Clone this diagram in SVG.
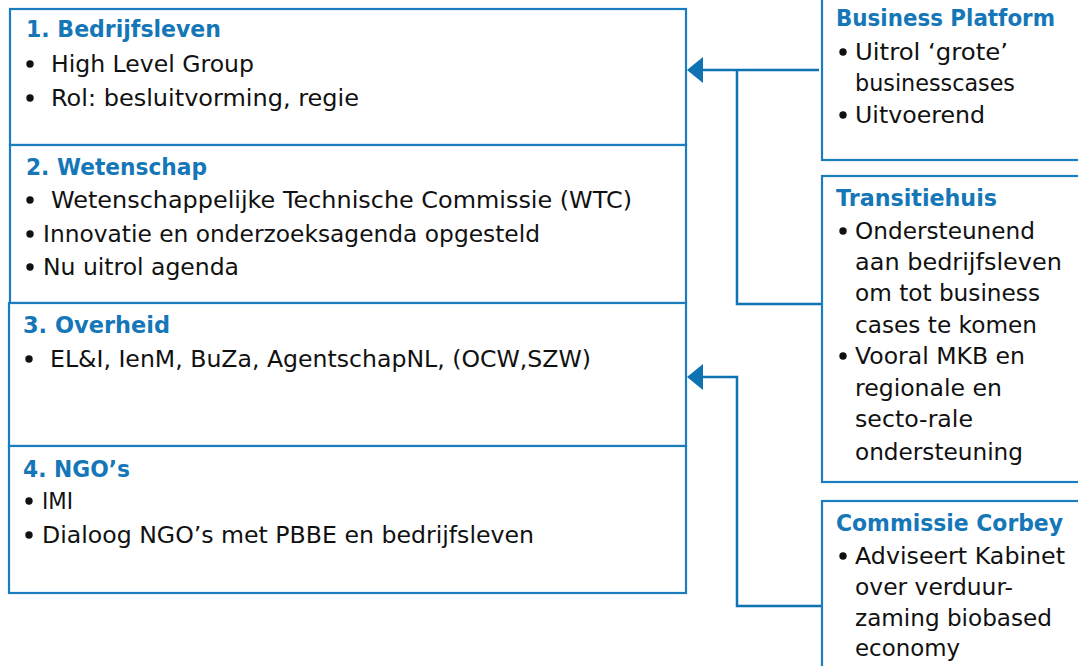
<svg xmlns="http://www.w3.org/2000/svg" width="1078" height="666" viewBox="0 0 1078 666">
<defs>
<style>
.box{fill:#fff;stroke:#1b7dbf;stroke-width:2.2}
.t{font-family:"DejaVu Sans","Liberation Sans",sans-serif;font-size:23px;font-weight:bold;fill:#1577b7}
.b{font-family:"DejaVu Sans","Liberation Sans",sans-serif;font-size:23.5px;fill:#111}
.dot{fill:#111}
.con{fill:none;stroke:#0f72b3;stroke-width:2.5}
.head{fill:#0f72b3}
</style>
</defs>
<rect width="1078" height="666" fill="#fff"/>

<g id="connectors">
<path class="con" d="M819,70 H703 M737,70 V304 H822"/>
<polygon class="head" points="687,70 703,57 703,83"/>
<path class="con" d="M822,606 H737 V377 H703"/>
<polygon class="head" points="687,377 703,364 703,390"/>
</g>

<g id="bedrijfsleven">
<rect class="box" x="10" y="9" width="676" height="136"/>
<text class="t" x="26" y="37" textLength="195" lengthAdjust="spacingAndGlyphs">1. Bedrijfsleven</text>
<circle class="dot" cx="30" cy="64" r="3.7"/>
<text class="b" x="51" y="72" textLength="203" lengthAdjust="spacingAndGlyphs">High Level Group</text>
<circle class="dot" cx="30" cy="98" r="3.7"/>
<text class="b" x="51" y="106" textLength="308" lengthAdjust="spacingAndGlyphs">Rol: besluitvorming, regie</text>
</g>

<g id="wetenschap">
<rect class="box" x="10" y="145" width="676" height="158"/>
<text class="t" x="26" y="175" textLength="181" lengthAdjust="spacingAndGlyphs">2. Wetenschap</text>
<circle class="dot" cx="30" cy="200" r="3.7"/>
<text class="b" x="51" y="208" textLength="581" lengthAdjust="spacingAndGlyphs">Wetenschappelijke Technische Commissie (WTC)</text>
<circle class="dot" cx="30" cy="234" r="3.7"/>
<text class="b" x="43" y="242" textLength="497" lengthAdjust="spacingAndGlyphs">Innovatie en onderzoeksagenda opgesteld</text>
<circle class="dot" cx="30" cy="267" r="3.7"/>
<text class="b" x="43" y="275" textLength="196" lengthAdjust="spacingAndGlyphs">Nu uitrol agenda</text>
</g>

<g id="overheid">
<rect class="box" x="9" y="303" width="677" height="143"/>
<text class="t" x="23" y="333" textLength="147" lengthAdjust="spacingAndGlyphs">3. Overheid</text>
<circle class="dot" cx="29" cy="359" r="3.7"/>
<text class="b" x="50" y="367" textLength="541" lengthAdjust="spacingAndGlyphs">EL&amp;I, IenM, BuZa, AgentschapNL, (OCW,SZW)</text>
</g>

<g id="ngos">
<rect class="box" x="9" y="446" width="677" height="147"/>
<text class="t" x="23" y="477" textLength="107" lengthAdjust="spacingAndGlyphs">4. NGO’s</text>
<circle class="dot" cx="29" cy="501" r="3.7"/>
<text class="b" x="42" y="509" textLength="31" lengthAdjust="spacingAndGlyphs">IMI</text>
<circle class="dot" cx="29" cy="535" r="3.7"/>
<text class="b" x="42" y="543" textLength="492" lengthAdjust="spacingAndGlyphs">Dialoog NGO’s met PBBE en bedrijfsleven</text>
</g>

<g id="business-platform">
<rect class="box" x="822" y="-10" width="300" height="170"/>
<text class="t" x="836" y="26" textLength="219" lengthAdjust="spacingAndGlyphs">Business Platform</text>
<circle class="dot" cx="843" cy="52" r="3.7"/>
<text class="b" x="855" y="60" textLength="153" lengthAdjust="spacingAndGlyphs">Uitrol ‘grote’</text>
<text class="b" x="855" y="91" textLength="160" lengthAdjust="spacingAndGlyphs">businesscases</text>
<circle class="dot" cx="843" cy="115" r="3.7"/>
<text class="b" x="855" y="123" textLength="130" lengthAdjust="spacingAndGlyphs">Uitvoerend</text>
</g>

<g id="transitiehuis">
<rect class="box" x="822" y="176" width="300" height="306"/>
<text class="t" x="836" y="206" textLength="161" lengthAdjust="spacingAndGlyphs">Transitiehuis</text>
<circle class="dot" cx="843" cy="231" r="3.7"/>
<text class="b" x="855" y="239" textLength="180" lengthAdjust="spacingAndGlyphs">Ondersteunend</text>
<text class="b" x="855" y="270" textLength="207" lengthAdjust="spacingAndGlyphs">aan bedrijfsleven</text>
<text class="b" x="855" y="301" textLength="185" lengthAdjust="spacingAndGlyphs">om tot business</text>
<text class="b" x="855" y="333" textLength="182" lengthAdjust="spacingAndGlyphs">cases te komen</text>
<circle class="dot" cx="843" cy="356" r="3.7"/>
<text class="b" x="855" y="364" textLength="170" lengthAdjust="spacingAndGlyphs">Vooral MKB en</text>
<text class="b" x="855" y="396" textLength="147" lengthAdjust="spacingAndGlyphs">regionale en</text>
<text class="b" x="855" y="427" textLength="118" lengthAdjust="spacingAndGlyphs">secto-rale</text>
<text class="b" x="855" y="460" textLength="168" lengthAdjust="spacingAndGlyphs">ondersteuning</text>
</g>

<g id="commissie-corbey">
<rect class="box" x="822" y="501" width="300" height="200"/>
<text class="t" x="836" y="531" textLength="227" lengthAdjust="spacingAndGlyphs">Commissie Corbey</text>
<circle class="dot" cx="843" cy="556" r="3.7"/>
<text class="b" x="855" y="564" textLength="210" lengthAdjust="spacingAndGlyphs">Adviseert Kabinet</text>
<text class="b" x="855" y="595" textLength="158" lengthAdjust="spacingAndGlyphs">over verduur-</text>
<text class="b" x="855" y="626" textLength="197" lengthAdjust="spacingAndGlyphs">zaming biobased</text>
<text class="b" x="855" y="656" textLength="105" lengthAdjust="spacingAndGlyphs">economy</text>
</g>
</svg>
